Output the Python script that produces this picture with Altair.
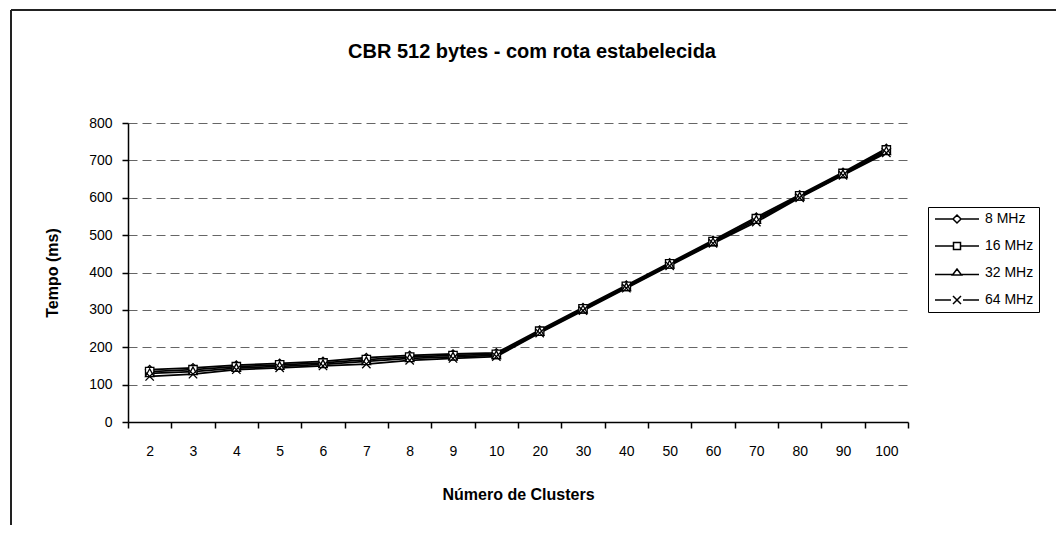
import altair as alt
import pandas as pd

clusters = ["2", "3", "4", "5", "6", "7", "8", "9", "10",
            "20", "30", "40", "50", "60", "70", "80", "90", "100"]
series_names = ["8 MHz", "16 MHz", "32 MHz", "64 MHz"]
mhz8 = [140, 145, 152, 157, 162, 172, 178, 182, 185, 246, 306, 366, 426, 486, 548, 608, 668, 732]
mhz16 = [135, 140, 148, 153, 158, 167, 174, 178, 181, 243, 303, 363, 423, 483, 544, 605, 665, 728]
mhz32 = [130, 135, 144, 149, 154, 162, 170, 174, 178, 240, 300, 360, 420, 480, 540, 602, 662, 724]
mhz64 = [122, 128, 140, 145, 150, 155, 165, 170, 175, 238, 298, 358, 418, 478, 535, 600, 660, 720]
title_text = "CBR 512 bytes - com rota estabelecida"

rows = []
for k, (name, vals) in enumerate(zip(series_names, [mhz8, mhz16, mhz32, mhz64])):
    for c, v in zip(clusters, vals):
        rows.append({"Clusters": c, "Tempo": v, "Serie": name, "order": k})
df = pd.DataFrame(rows)

FONT = "Liberation Sans"
W, H = 780, 299

plot_shapes = [
    "diamond",
    "square",
    "M0,-1.1L1,0.75L-1,0.75Z",
    "M-1,-1L1,1M-1,1L1,-1",
]
legend_shapes = [
    "M-1,0L2.6,0M4.2,0L7.8,0M2.6,0L3.4,-0.8L4.2,0L3.4,0.8Z",
    "M-1,0L2.7,0M4.1,0L7.8,0M2.7,-0.7L4.1,-0.7L4.1,0.7L2.7,0.7Z",
    "M-1,0.3L2.5,0.3M4.3,0.3L7.8,0.3M2.5,0.4L3.4,-0.8L4.3,0.4Z",
    "M-1,0L2.2,0M4.6,0L7.8,0M2.6,-0.8L4.2,0.8M2.6,0.8L4.2,-0.8",
]

x_enc = alt.X("Clusters:O", sort=clusters,
              scale=alt.Scale(domain=clusters, paddingInner=0, paddingOuter=0),
              axis=alt.Axis(title="Número de Clusters", labelAngle=0, tickBand="extent",
                            grid=False, tickSize=6, labelPadding=16,
                            titlePadding=28))
y_enc = alt.Y("Tempo:Q",
              scale=alt.Scale(domain=[0, 800], nice=False),
              axis=alt.Axis(title="Tempo (ms)", values=list(range(0, 801, 100)),
                            tickSize=6, labelPadding=10, titlePadding=28,
                            grid=True, gridDash=[9, 5], gridColor="#666",
                            gridWidth=1))

base = alt.Chart(df)

lines = base.mark_line(color="black", strokeWidth=1.8).encode(
    x=x_enc, y=y_enc, detail="Serie:N", order="order:Q"
)

points = base.mark_point(filled=True, fill="white", stroke="black",
                         strokeWidth=1.3, opacity=1).encode(
    x=x_enc,
    y=y_enc,
    shape=alt.Shape("Serie:N", scale=alt.Scale(domain=series_names, range=plot_shapes),
                    legend=None),
    size=alt.value(70),
    order="order:Q",
)

legend_layer = base.transform_filter("false").mark_point(
    filled=True, fill="white", stroke="black", strokeWidth=1.3, opacity=1
).encode(
    x=x_enc,
    y=y_enc,
    shape=alt.Shape("Serie:N",
                    scale=alt.Scale(domain=series_names, range=legend_shapes),
                    legend=alt.Legend(title=None, orient="none", legendX=800, legendY=84,
                                      symbolSize=100,
                                      labelFont=FONT, labelFontSize=14,
                                      labelOffset=38, rowPadding=13,
                                      strokeColor="black", padding=5)),
)

frame_data = alt.Data(values=[{"a": 1}])
frame_top = alt.Chart(frame_data).mark_rule(color="#222", strokeWidth=2).encode(
    x=alt.value(-117), x2=alt.value(1000), y=alt.value(-113)
)
frame_left = alt.Chart(frame_data).mark_rule(color="#222", strokeWidth=2).encode(
    x=alt.value(-117), y=alt.value(-113), y2=alt.value(420)
)
title = alt.Chart(alt.Data(values=[{"t": title_text}])).mark_text(
    font=FONT, fontSize=20, fontWeight="bold", color="black", align="center",
    baseline="middle"
).encode(text="t:N", x=alt.value(404), y=alt.value(-71))

chart = alt.layer(frame_top, frame_left, title, lines, points, legend_layer).resolve_scale(
    shape="independent"
).properties(
    width=W, height=H,
    autosize=alt.AutoSizeParams(type="none"),
    padding={"left": 120, "top": 115, "right": 148, "bottom": 103},
    background="white",
).configure_view(stroke=None).configure_axis(
    labelFont=FONT, labelFontSize=14, labelColor="black",
    titleFont=FONT, titleFontSize=16, titleFontWeight="bold", titleColor="black",
    domainColor="black", domainWidth=1.5, tickColor="black", tickWidth=1.5,
)

chart.save("out.html", embed_options={"renderer": "svg", "actions": False})
